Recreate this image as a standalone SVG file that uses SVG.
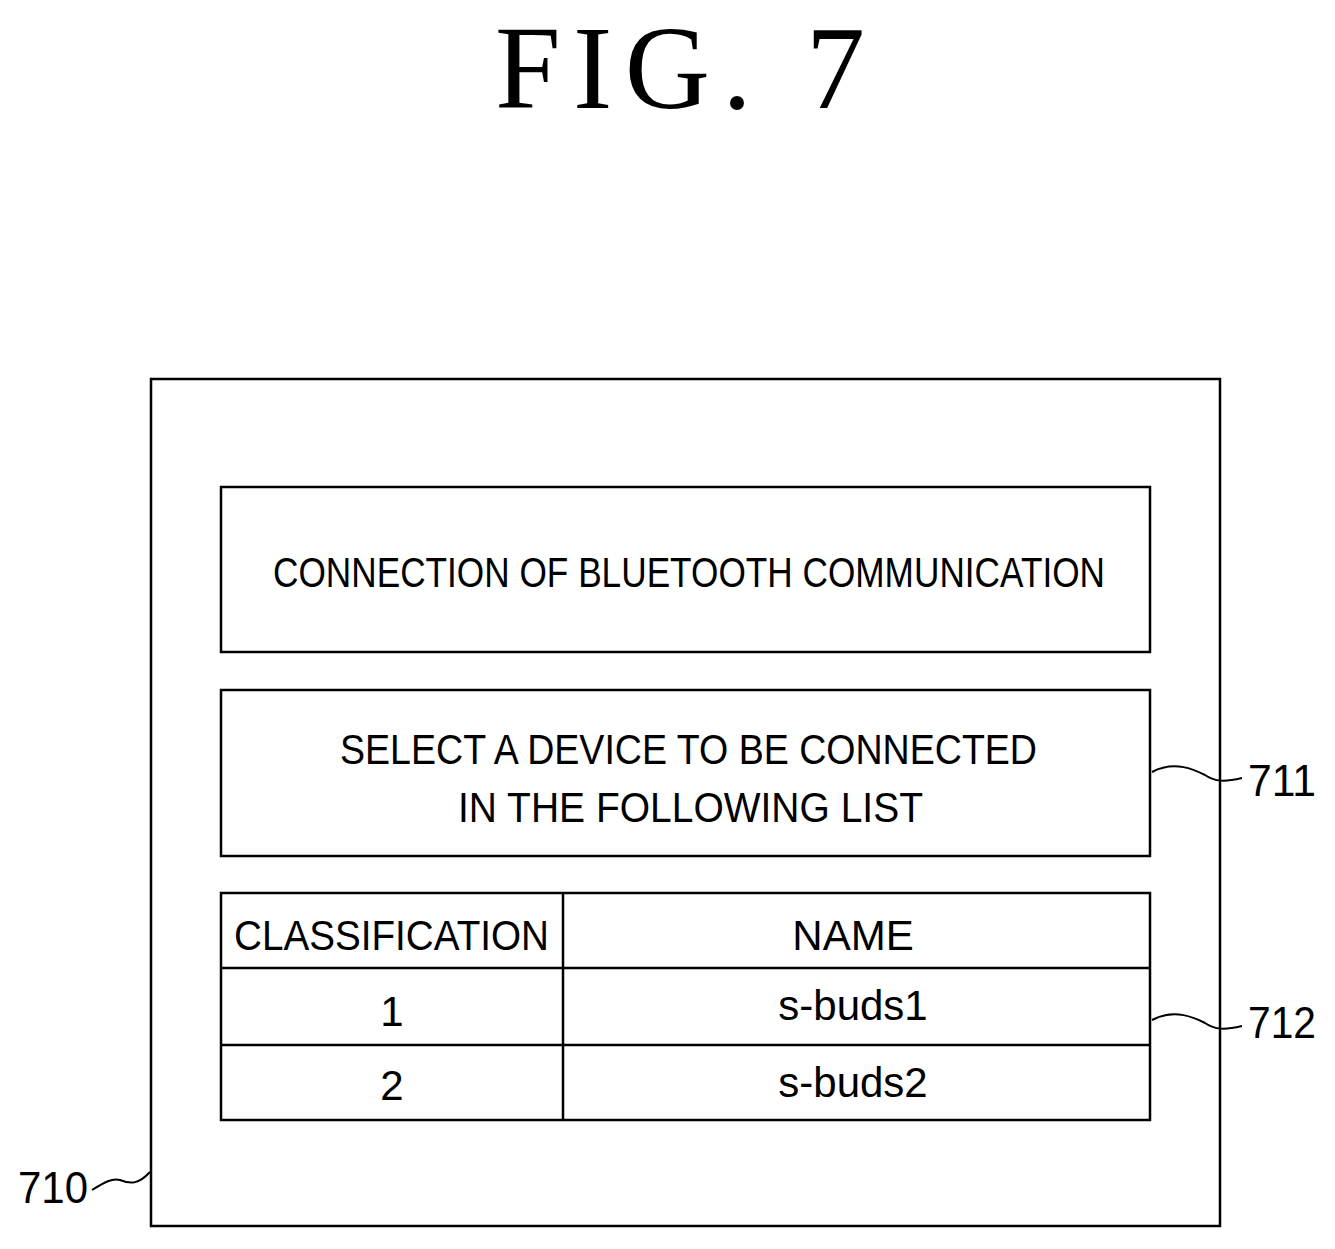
<svg xmlns="http://www.w3.org/2000/svg" width="1335" height="1249" viewBox="0 0 1335 1249">
<style>
.b{fill:none;stroke:#000;stroke-width:2.5}
.t{font-family:"Liberation Sans",sans-serif;font-size:42px;fill:#000}
.l{font-family:"Liberation Sans",sans-serif;font-size:44px;fill:#000}
.w{fill:none;stroke:#000;stroke-width:2}
</style>
<rect width="1335" height="1249" fill="#fff"/>
<text x="495" y="108" textLength="370" font-family="Liberation Serif,serif" font-size="118">FIG.  7</text>
<g id="n710"><rect class="b" x="151" y="379" width="1069" height="847"/><text class="l" x="18" y="1203" textLength="70" lengthAdjust="spacingAndGlyphs">710</text></g>
<g id="title"><rect class="b" x="221" y="487" width="929" height="165"/><text class="t" x="273" y="587" textLength="832" lengthAdjust="spacingAndGlyphs">CONNECTION OF BLUETOOTH COMMUNICATION</text></g>
<g id="n711"><rect class="b" x="221" y="690" width="929" height="166"/><text class="t" x="340" y="764" textLength="697" lengthAdjust="spacingAndGlyphs">SELECT A DEVICE TO BE CONNECTED</text><text class="t" x="458" y="822" textLength="465" lengthAdjust="spacingAndGlyphs">IN THE FOLLOWING LIST</text><text class="l" x="1248" y="796" textLength="68" lengthAdjust="spacingAndGlyphs">711</text></g>
<g id="n712"><rect class="b" x="221" y="893" width="929" height="227"/><line class="b" x1="563" y1="893" x2="563" y2="1120"/><line class="b" x1="221" y1="968" x2="1150" y2="968"/><line class="b" x1="221" y1="1045" x2="1150" y2="1045"/>
<text class="t" x="234" y="950" textLength="315" lengthAdjust="spacingAndGlyphs">CLASSIFICATION</text>
<text class="t" x="853" y="950" text-anchor="middle">NAME</text>
<text class="t" x="392" y="1026" text-anchor="middle">1</text>
<text class="t" x="853" y="1020" text-anchor="middle">s-buds1</text>
<text class="t" x="392" y="1100" text-anchor="middle">2</text>
<text class="t" x="853" y="1097" text-anchor="middle">s-buds2</text>
<text class="l" x="1248" y="1038" textLength="68" lengthAdjust="spacingAndGlyphs">712</text></g>
<g id="connectors">
<path class="w" d="M1152,772 C1175,760 1195,770 1205,775 C1215,782 1225,782 1242,778"/>
<path class="w" d="M1152,1020 C1175,1008 1195,1018 1205,1023 C1215,1030 1225,1030 1242,1026"/>
<path class="w" d="M92,1190 C105,1182 112,1178 120,1180 C130,1184 138,1185 150,1172"/>
</g>
</svg>
